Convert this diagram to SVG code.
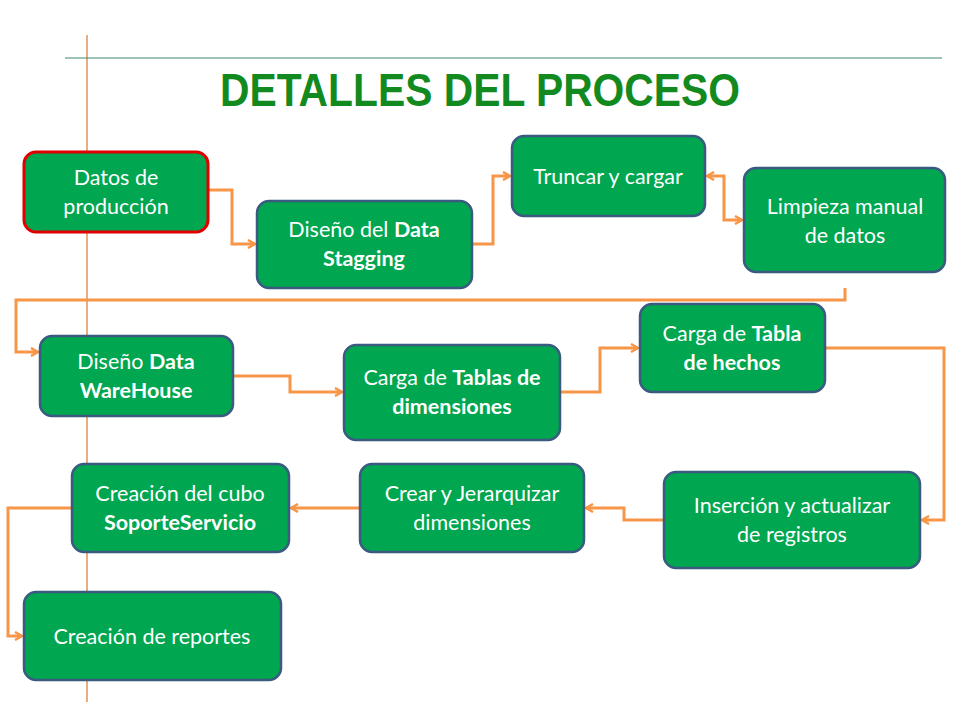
<svg xmlns="http://www.w3.org/2000/svg" width="960" height="720" viewBox="0 0 960 720">
<defs>
<marker id="ah" markerWidth="10" markerHeight="10" refX="8" refY="5" orient="auto" markerUnits="userSpaceOnUse">
<path d="M1,1 L8,5 L1,9" fill="none" stroke="#F79646" stroke-width="2.5" stroke-linejoin="miter"/>
</marker>
<marker id="ahs" markerWidth="10" markerHeight="10" refX="2" refY="5" orient="auto" markerUnits="userSpaceOnUse">
<path d="M9,1 L2,5 L9,9" fill="none" stroke="#F79646" stroke-width="2.5"/>
</marker>
</defs>
<style>
.box{fill:#00A650;stroke:#3A5A80;stroke-width:2.5}
.t{font-family:Lato,"Open Sans","Liberation Sans",sans-serif;font-size:21.5px;fill:#fff;text-anchor:middle}
.b{font-weight:bold}
.c{fill:none;stroke:#F79646;stroke-width:3;marker-end:url(#ah)}
</style>
<rect width="960" height="720" fill="#fff"/>
<line x1="87" y1="35" x2="87" y2="702" stroke="#D9782E" stroke-width="1.2"/>
<line x1="65" y1="58" x2="942" y2="58" stroke="#3C8A6A" stroke-width="1.2"/>
<text x="480" y="106" text-anchor="middle" font-family="'Liberation Sans',sans-serif" font-weight="bold" font-size="46" fill="#138A1F" textLength="520" lengthAdjust="spacingAndGlyphs">DETALLES DEL PROCESO</text>
<g id="connectors">
<path class="c" d="M208,190 H232 V244 H255"/>
<path class="c" d="M472,244 H493 V176 H510"/>
<path class="c" d="M707,176 H724 V220 H742" marker-start="url(#ahs)"/>
<path class="c" d="M845,288 V300 H16 V352 H38"/>
<path class="c" d="M233,376 H290 V392 H342"/>
<path class="c" d="M560,392 H600 V348 H638"/>
<path class="c" d="M825,348 H944 V520 H922"/>
<path class="c" d="M664,520 H624 V508 H586"/>
<path class="c" d="M360,508 H291"/>
<path class="c" d="M72,508 H8 V636 H22"/>
</g>
<g id="n1"><rect class="box" x="24" y="152" width="184" height="80" rx="12" style="stroke:#E00000;stroke-width:3"/>
<text class="t" x="116" y="185">Datos de</text><text class="t" x="116" y="214">producción</text></g>
<g id="n2"><rect class="box" x="257" y="201" width="215" height="87" rx="12"/>
<text class="t" x="364" y="237">Diseño del <tspan class="b">Data</tspan></text><text class="t b" x="364" y="266">Stagging</text></g>
<g id="n3"><rect class="box" x="512" y="136" width="193" height="80" rx="12"/>
<text class="t" x="608" y="184">Truncar y cargar</text></g>
<g id="n4"><rect class="box" x="744" y="168" width="201" height="104" rx="12"/>
<text class="t" x="845" y="214">Limpieza manual</text><text class="t" x="845" y="243">de datos</text></g>
<g id="n5"><rect class="box" x="40" y="336" width="193" height="80" rx="12"/>
<text class="t" x="136" y="369">Diseño <tspan class="b">Data</tspan></text><text class="t b" x="136" y="398">WareHouse</text></g>
<g id="n6"><rect class="box" x="344" y="345" width="216" height="95" rx="12"/>
<text class="t" x="452" y="385">Carga de <tspan class="b">Tablas de</tspan></text><text class="t b" x="452" y="414">dimensiones</text></g>
<g id="n7"><rect class="box" x="640" y="304" width="185" height="88" rx="12"/>
<text class="t" x="732" y="341">Carga de <tspan class="b">Tabla</tspan></text><text class="t b" x="732" y="370">de hechos</text></g>
<g id="n8"><rect class="box" x="664" y="472" width="256" height="96" rx="12"/>
<text class="t" x="792" y="513">Inserción y actualizar</text><text class="t" x="792" y="542">de registros</text></g>
<g id="n9"><rect class="box" x="360" y="464" width="224" height="88" rx="12"/>
<text class="t" x="472" y="501">Crear y Jerarquizar</text><text class="t" x="472" y="530">dimensiones</text></g>
<g id="n10"><rect class="box" x="72" y="464" width="217" height="88" rx="12"/>
<text class="t" x="180" y="501">Creación del cubo</text><text class="t b" x="180" y="530">SoporteServicio</text></g>
<g id="n11"><rect class="box" x="24" y="592" width="257" height="88" rx="12"/>
<text class="t" x="152" y="644">Creación de reportes</text></g>
</svg>
